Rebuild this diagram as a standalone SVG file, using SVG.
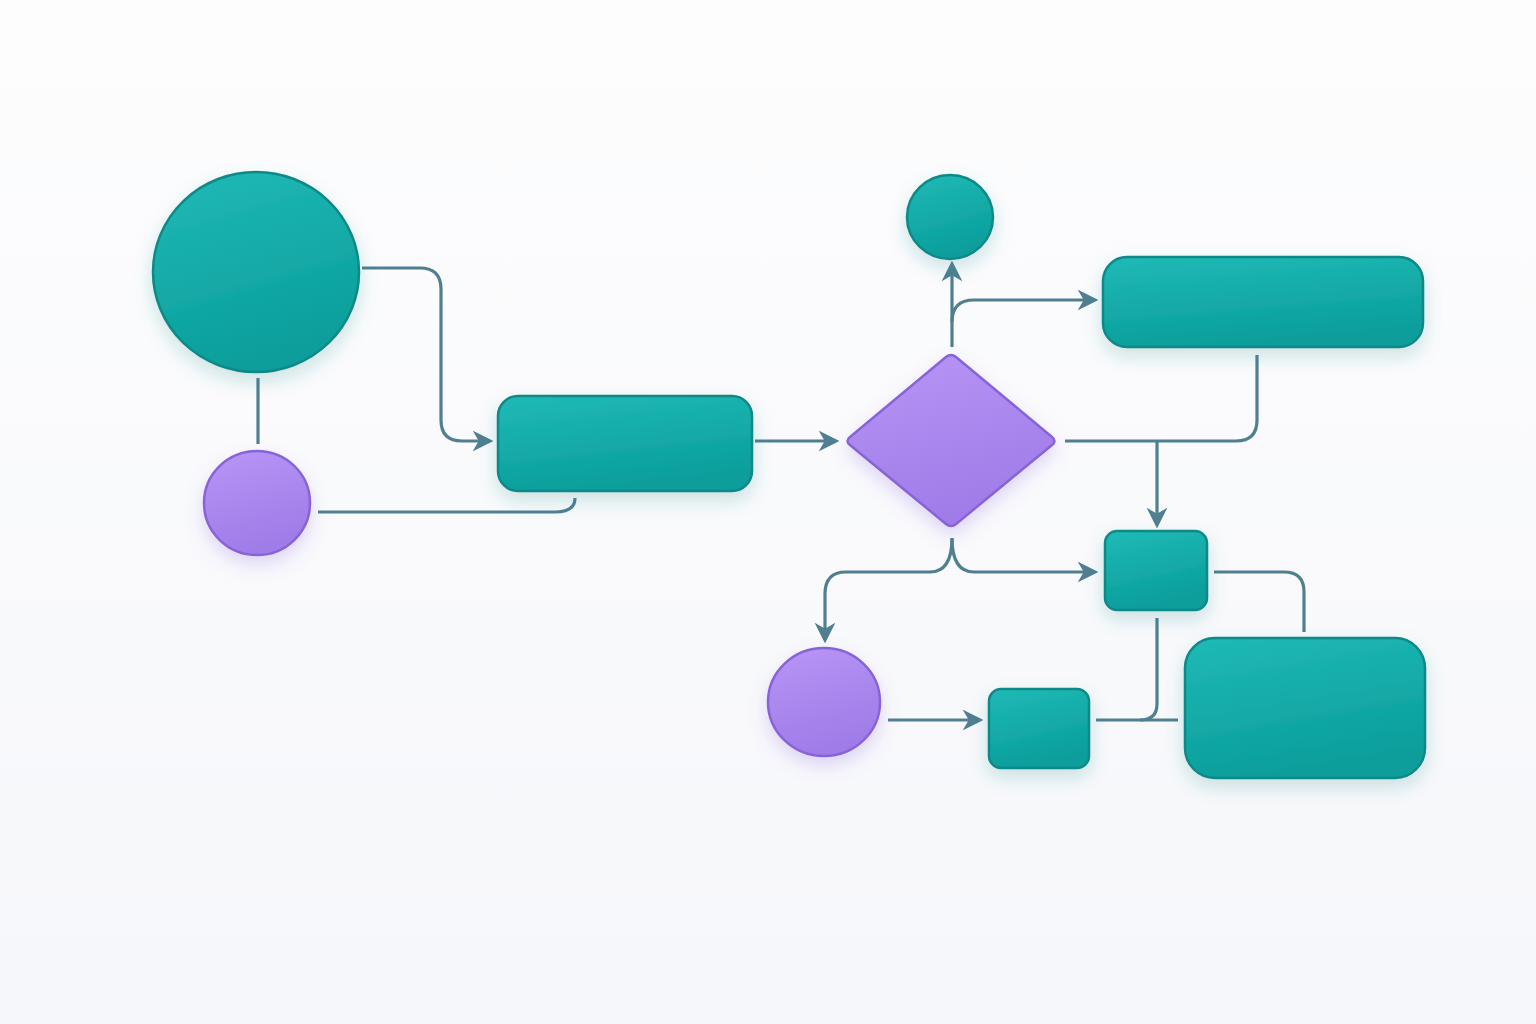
<svg xmlns="http://www.w3.org/2000/svg" width="1536" height="1024" viewBox="0 0 1536 1024">
<defs>
<linearGradient id="bg" x1="0" y1="0" x2="0" y2="1"><stop offset="0" stop-color="#fdfdfe"/><stop offset="1" stop-color="#f6f7fa"/></linearGradient>
<linearGradient id="teal" x1="0" y1="0" x2="0.3" y2="1"><stop offset="0" stop-color="#20bab6"/><stop offset="1" stop-color="#0a9e9b"/></linearGradient>
<linearGradient id="purple" x1="0" y1="0" x2="0.3" y2="1"><stop offset="0" stop-color="#b895f5"/><stop offset="1" stop-color="#9f7ce8"/></linearGradient>
<filter id="sh" x="-30%" y="-30%" width="160%" height="170%"><feDropShadow dx="0" dy="8" stdDeviation="9" flood-color="#1a8a8a" flood-opacity="0.22"/></filter>
<filter id="shp" x="-30%" y="-30%" width="160%" height="170%"><feDropShadow dx="0" dy="8" stdDeviation="9" flood-color="#8a60e0" flood-opacity="0.25"/></filter>
<marker id="arr" viewBox="0 0 12 12" refX="10" refY="6" markerWidth="6.5" markerHeight="6.5" orient="auto" markerUnits="strokeWidth"><path d="M0,0 L12,6 L0,12 L3.5,6 z" fill="#4f7f91"/></marker>
<style>
.t{fill:url(#teal);stroke:#0d8988;stroke-width:2.5;filter:url(#sh)}
.p{fill:url(#purple);stroke:#8764d8;stroke-width:2.5;filter:url(#shp)}
.c{fill:none;stroke:#4f7f91;stroke-width:3.2;stroke-linecap:butt;stroke-linejoin:round}
.a{marker-end:url(#arr)}
</style>
</defs>
<rect width="1536" height="1024" fill="url(#bg)"/>
<g id="connectors">
<path class="c a" d="M362,268 H420 Q441,268 441,289 V420 Q441,441 462,441 H490"/>
<path class="c" d="M258,378 V444"/>
<path class="c" d="M318,512 H555 Q575,512 575,498"/>
<path class="c a" d="M755,441 H836"/>
<path class="c a" d="M952,347 V264"/>
<path class="c a" d="M952,322 Q952,300 974,300 H1095"/>
<path class="c" d="M1257,355 V420 Q1257,441 1236,441 H1065"/>
<path class="c a" d="M1157,441 V525"/>
<path class="c a" d="M952,538 Q952,572 930,572 H846 Q825,572 825,594 V640"/>
<path class="c a" d="M952,538 Q952,572 974,572 H1095"/>
<path class="c" d="M1214,572 H1284 Q1304,572 1304,592 V632"/>
<path class="c a" d="M888,720 H980"/>
<path class="c" d="M1096,720 H1178"/>
<path class="c" d="M1157,618 V704 Q1157,720 1140,720"/>
</g>
<g id="n-big-circle"><ellipse class="t" cx="256" cy="272" rx="103" ry="100"/></g>
<g id="n-purple-circle-1"><ellipse class="p" cx="257" cy="503" rx="53" ry="52"/></g>
<g id="n-rect-1"><rect class="t" x="498" y="396" width="254" height="95" rx="20"/></g>
<g id="n-diamond"><path class="p" d="M946,357 Q951,353 956,357 L1052,437 Q1057,441 1052,445 L956,524 Q951,528 946,524 L850,445 Q845,441 850,437 Z"/></g>
<g id="n-small-circle"><ellipse class="t" cx="950" cy="217" rx="43" ry="42"/></g>
<g id="n-rect-2"><rect class="t" x="1103" y="257" width="320" height="90" rx="24"/></g>
<g id="n-square-1"><rect class="t" x="1105" y="531" width="102" height="79" rx="12"/></g>
<g id="n-purple-circle-2"><ellipse class="p" cx="824" cy="702" rx="56" ry="54"/></g>
<g id="n-square-2"><rect class="t" x="989" y="689" width="100" height="79" rx="12"/></g>
<g id="n-rect-3"><rect class="t" x="1185" y="638" width="240" height="140" rx="30"/></g>
</svg>
